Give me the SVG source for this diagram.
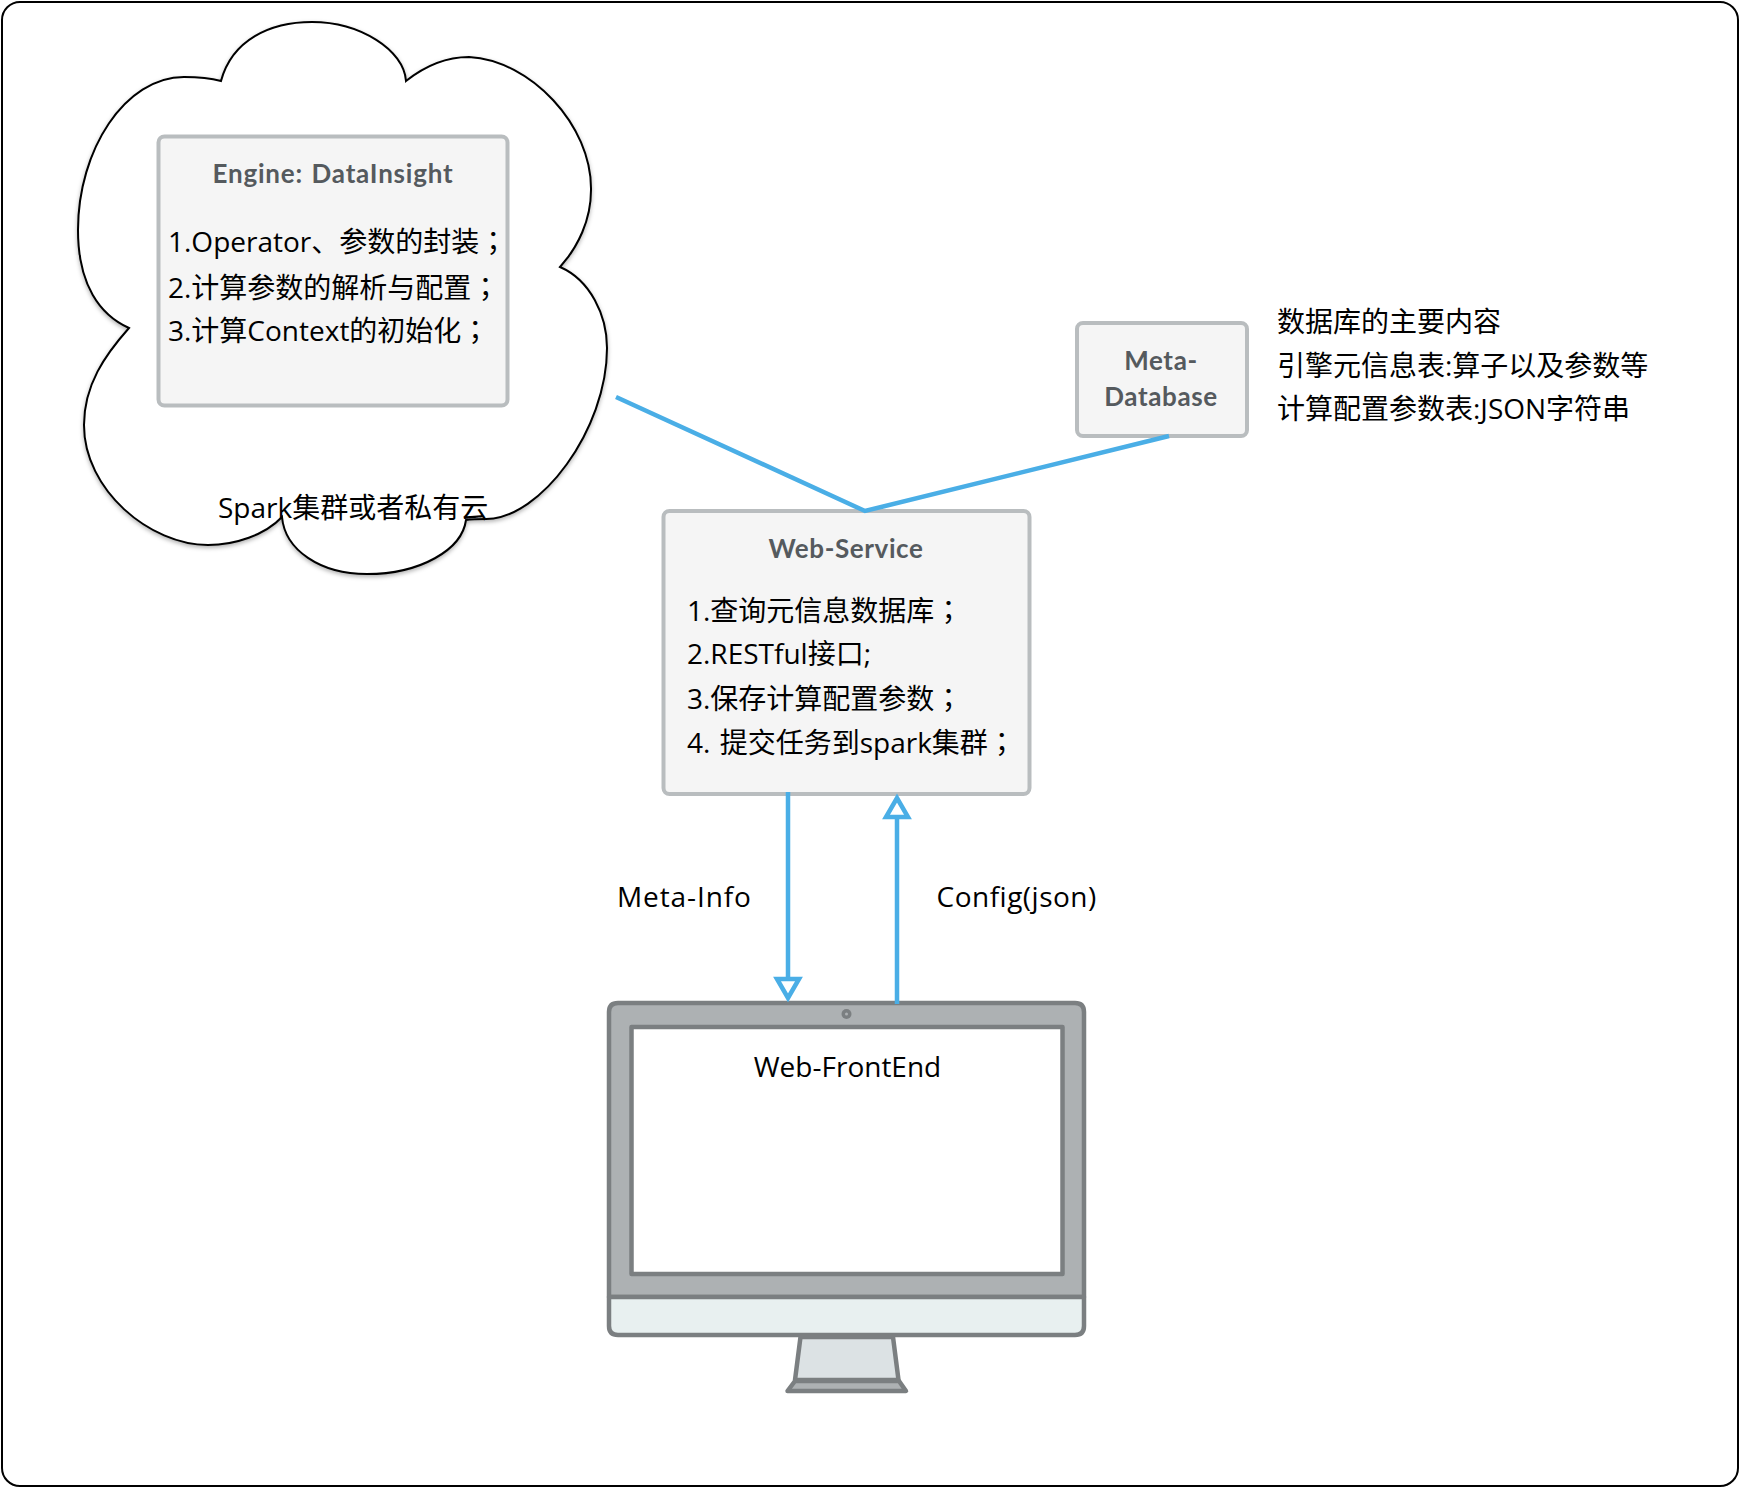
<svg xmlns="http://www.w3.org/2000/svg" width="1740" height="1488" viewBox="0 0 1740 1488">
<style>
.box{fill:#f5f5f5;stroke:#b9bdbf;stroke-width:4}
.t{font-family:"Lato","Noto Sans CJK SC",sans-serif;font-weight:700;font-size:26px;letter-spacing:.6px;fill:#555a5e;text-anchor:middle}
.b{font-family:"Open Sans","Noto Sans CJK SC",sans-serif;font-size:28px;fill:#000}
.p{font-family:"Noto Sans CJK TC",sans-serif}
.m{text-anchor:middle}
.c{fill:none;stroke:#4aaee6;stroke-width:4.500}
.ah{fill:#fff;stroke:#4aaee6;stroke-width:4.500}
.mon{stroke:#7b7f81;stroke-width:4.500;stroke-linejoin:round}
</style>
<defs><filter id="sh" x="-5%" y="-5%" width="110%" height="110%"><feDropShadow dx="0" dy="2" stdDeviation="2" flood-opacity="0.3"/></filter></defs>
<rect id="frame" x="2" y="2" width="1736" height="1484" rx="18" fill="#fff" stroke="#000" stroke-width="2"/>
<g id="cloud">
<path filter="url(#sh)" fill="#fff" stroke="#000" stroke-width="2" stroke-linejoin="miter" d="M221,81 C232,40 270,22 312,22 C360,22 404,50 406,81 C430,62 450,57 469,57 C530,60 592,125 591,190 C591,220 578,247 560,267 C590,280 607,315 607,348 C607,430 540,519 486,519 C478,519 472,519 466,520 C462,550 420,574 367,574 C320,574 285,550 282,517 C265,535 235,545 208,545 C150,545 84,490 84,425 C84,385 105,355 129,328 C100,315 78,285 78,230 C78,150 125,77 184,77 C197,77 210,78 221,81 Z"/>
<text class="b" x="218" y="518">Spark集群或者私有云</text>
</g>
<g id="engine">
<rect class="box" x="158.500" y="136.500" width="349" height="269" rx="6"/>
<text class="t" x="333" y="183" style="letter-spacing:.8px;word-spacing:1.500px">Engine: DataInsight</text>
<text class="b" x="168" y="252">1.Operator、参数的封装<tspan class="p">；</tspan></text>
<text class="b" x="168" y="298">2.计算参数的解析与配置<tspan class="p">；</tspan></text>
<text class="b" x="168" y="341">3.计算Context的初始化<tspan class="p">；</tspan></text>
</g>
<g id="meta-database">
<rect class="box" x="1077" y="323" width="170" height="113" rx="6"/>
<text class="t" x="1161" y="370">Meta-</text>
<text class="t" x="1161" y="406">Database</text>
</g>
<g id="db-notes">
<text class="b" x="1277" y="332">数据库的主要内容</text>
<text class="b" x="1277" y="376">引擎元信息表:算子以及参数等</text>
<text class="b" x="1277" y="419">计算配置参数表:JSON字符串</text>
</g>
<g id="web-service">
<rect class="box" x="663.500" y="511" width="366" height="283" rx="6"/>
<text class="t" x="846" y="558">Web-Service</text>
<text class="b" x="687" y="621">1.查询元信息数据库<tspan class="p">；</tspan></text>
<text class="b" x="687" y="664">2.RESTful接口;</text>
<text class="b" x="687" y="709">3.保存计算配置参数<tspan class="p">；</tspan></text>
<text class="b" x="687" y="753">4.<tspan dx="2"> </tspan>提交任务到spark集群<tspan class="p">；</tspan></text>
</g>
<g id="web-frontend">
<path class="mon" fill="#adb1b3" d="M609,1297 V1012 Q609,1003 618,1003 H1075 Q1084,1003 1084,1012 V1297 Z"/>
<path class="mon" fill="#e8f0f0" d="M609,1297 H1084 V1326 Q1084,1335 1075,1335 H618 Q609,1335 609,1326 Z"/>
<rect class="mon" fill="#fff" x="631.500" y="1027" width="431" height="247"/>
<circle cx="846.500" cy="1014" r="5" fill="#7b7f81"/><circle cx="846.500" cy="1014" r="1.500" fill="#adb1b3"/>
<path class="mon" fill="#dce2e4" d="M800.500,1337 H893 L898.500,1380 H795 Z"/>
<path class="mon" fill="#adb1b3" d="M795,1381 H899 L906,1391 H787.500 Z"/>
<text class="b m" x="847.500" y="1077">Web-FrontEnd</text>
</g>
<g id="connectors">
<path class="c" d="M616,397 L865,511 L1169,436"/>
<path class="c" d="M788,792 V979"/>
<path class="ah" d="M777,979 H799 L788,998 Z"/>
<path class="c" d="M897,1004 V817"/>
<path class="ah" d="M886,817 H908 L897,798 Z"/>
<text class="b" x="617" y="907" style="letter-spacing:.9px">Meta-Info</text>
<text class="b" x="936.500" y="907" style="letter-spacing:.5px">Config(json)</text>
</g>
</svg>
